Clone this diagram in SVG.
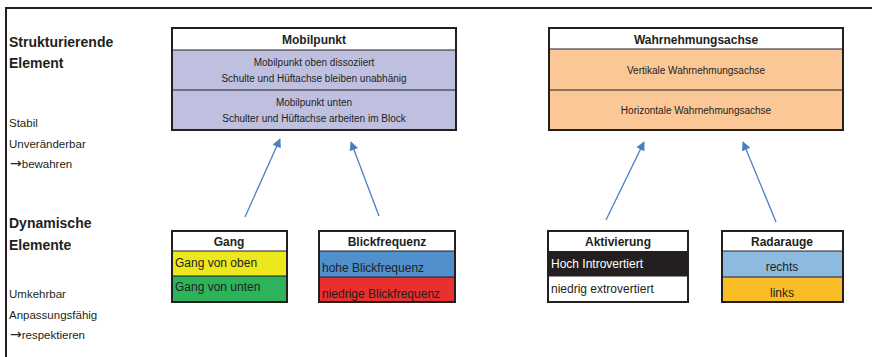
<svg xmlns="http://www.w3.org/2000/svg" width="872" height="357" viewBox="0 0 872 357">
<style>
text{font-family:"Liberation Sans",Arial,sans-serif;fill:#231f20}
.lb{font-size:14px;font-weight:bold}
.lr{font-size:11.5px}
.ar{font-family:"DejaVu Sans",sans-serif;font-size:14px}
.h{font-size:12px;font-weight:bold;text-anchor:middle}
.s{font-size:10px;text-anchor:middle}
.i{font-size:12px}
.box{fill:none;stroke:#231f20;stroke-width:2}
.div{stroke:#231f20;stroke-width:1}
.arr{stroke:#4a7fc0;stroke-width:1.3;fill:none;marker-end:url(#ah)}
</style>
<defs>
<marker id="ah" viewBox="0 0 10 10" refX="9" refY="5" markerWidth="10" markerHeight="9" markerUnits="userSpaceOnUse" orient="auto">
<path d="M0,0 L10,5 L0,10 z" fill="#4a7fc0"/>
</marker>
</defs>
<rect width="872" height="357" fill="#fff"/>
<path d="M6,357 V8 H872" fill="none" stroke="#231f20" stroke-width="2"/>
<g id="labels">
<text class="lb" x="9" y="47">Strukturierende</text>
<text class="lb" x="9" y="68">Element</text>
<text class="lr" x="9" y="127">Stabil</text>
<text class="lr" x="9" y="148">Unveränderbar</text>
<text class="lr" x="10" y="168"><tspan class="ar">→</tspan>bewahren</text>
<text class="lb" x="9" y="228">Dynamische</text>
<text class="lb" x="9" y="250">Elemente</text>
<text class="lr" x="9" y="298">Umkehrbar</text>
<text class="lr" x="9" y="319">Anpassungsfähig</text>
<text class="lr" x="10" y="339"><tspan class="ar">→</tspan>respektieren</text>
</g>
<g id="mobilpunkt">
<rect x="172" y="28" width="284" height="22" fill="#fff"/>
<rect x="172" y="50" width="284" height="80" fill="#bfc0e0"/>
<line class="div" x1="172" y1="50" x2="456" y2="50"/>
<line class="div" x1="172" y1="90" x2="456" y2="90"/>
<rect class="box" x="172" y="28" width="284" height="102"/>
<text class="h" x="314" y="44">Mobilpunkt</text>
<text class="s" x="314" y="66">Mobilpunkt oben dissoziiert</text>
<text class="s" x="314" y="82">Schulte und Hüftachse bleiben unabhänig</text>
<text class="s" x="314" y="106">Mobilpunkt unten</text>
<text class="s" x="314" y="122">Schulter und Hüftachse arbeiten im Block</text>
</g>
<g id="wahrnehmungsachse">
<rect x="549" y="28" width="294" height="21" fill="#fff"/>
<rect x="549" y="49" width="294" height="81" fill="#fbc796"/>
<line class="div" x1="549" y1="49" x2="843" y2="49"/>
<line class="div" x1="549" y1="90" x2="843" y2="90"/>
<rect class="box" x="549" y="28" width="294" height="102"/>
<text class="h" x="696" y="44">Wahrnehmungsachse</text>
<text class="s" x="696" y="74">Vertikale Wahrnehmungsachse</text>
<text class="s" x="696" y="114">Horizontale Wahrnehmungsachse</text>
</g>
<g id="gang">
<rect x="172" y="231" width="115" height="20" fill="#fff"/>
<rect x="172" y="251" width="115" height="25" fill="#ede81e"/>
<rect x="172" y="276" width="115" height="26" fill="#2db35c"/>
<line class="div" x1="172" y1="251" x2="287" y2="251"/>
<line class="div" x1="172" y1="276" x2="287" y2="276"/>
<rect class="box" x="172" y="231" width="115" height="71"/>
<text class="h" x="229" y="246">Gang</text>
<text class="i" x="175" y="267">Gang von oben</text>
<text class="i" x="175" y="291">Gang von unten</text>
</g>
<g id="blickfrequenz">
<rect x="319" y="231" width="136" height="20" fill="#fff"/>
<rect x="319" y="251" width="136" height="26" fill="#4f90cd"/>
<rect x="319" y="277" width="136" height="25" fill="#e8302f"/>
<line class="div" x1="319" y1="251" x2="455" y2="251"/>
<line class="div" x1="319" y1="277" x2="455" y2="277"/>
<rect class="box" x="319" y="231" width="136" height="71"/>
<text class="h" x="387" y="246">Blickfrequenz</text>
<text class="i" x="322" y="272">hohe Blickfrequenz</text>
<text class="i" x="322" y="298">niedrige Blickfrequenz</text>
</g>
<g id="aktivierung">
<rect x="548" y="231" width="140" height="20" fill="#fff"/>
<rect x="548" y="251" width="140" height="25" fill="#231f20"/>
<rect x="548" y="276" width="140" height="26" fill="#fff"/>
<line class="div" x1="548" y1="276" x2="688" y2="276"/>
<rect class="box" x="548" y="231" width="140" height="71"/>
<text class="h" x="618" y="246">Aktivierung</text>
<text class="i" x="551" y="268" style="fill:#fff">Hoch Introvertiert</text>
<text class="i" x="551" y="293">niedrig extrovertiert</text>
</g>
<g id="radarauge">
<rect x="722" y="231" width="121" height="20" fill="#fff"/>
<rect x="722" y="251" width="121" height="26" fill="#8dbbe0"/>
<rect x="722" y="277" width="121" height="25" fill="#fbbd26"/>
<line class="div" x1="722" y1="251" x2="843" y2="251"/>
<line class="div" x1="722" y1="277" x2="843" y2="277"/>
<rect class="box" x="722" y="231" width="121" height="71"/>
<text class="h" x="782" y="246">Radarauge</text>
<text class="i" x="782" y="271" text-anchor="middle">rechts</text>
<text class="i" x="782" y="297" text-anchor="middle">links</text>
</g>
<g id="connectors">
<line class="arr" x1="245" y1="217" x2="280" y2="139"/>
<line class="arr" x1="379" y1="216" x2="351" y2="142"/>
<line class="arr" x1="606" y1="220" x2="644" y2="142"/>
<line class="arr" x1="776" y1="222" x2="743" y2="142"/>
</g>
</svg>
